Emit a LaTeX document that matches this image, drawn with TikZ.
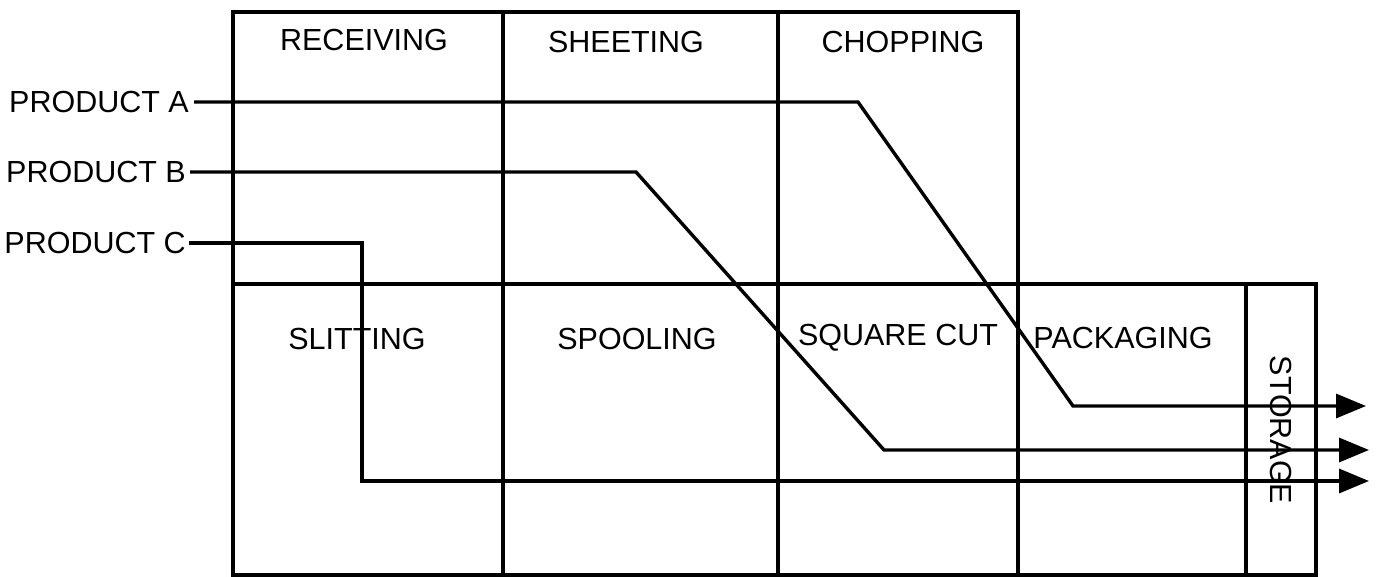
\documentclass[tikz,border=0pt]{standalone}
\usepackage{fontspec}
\setmainfont{Liberation Sans}
\usetikzlibrary{arrows.meta}
\begin{document}
\begin{tikzpicture}[x=1pt,y=-1pt,
  cell/.style={draw,line width=3.4pt},
  lbl/.style={font=\fontsize{30.5}{32}\selectfont,inner sep=0pt},
  flow/.style={line width=3.4pt,line join=miter},
  flowarrow/.style={flow,-{Triangle[length=30pt,width=24pt]}}]
\useasboundingbox (0,0) rectangle (1380,577);
% grid
\draw[cell] (233,12) rectangle (1018,575);
\draw[cell] (1018,284) rectangle (1316,575);
\draw[cell] (233,284) -- (1018,284);
\draw[cell] (503,12) -- (503,575);
\draw[cell] (778,12) -- (778,575);
\draw[cell] (1246,284) -- (1246,575);
% labels
\node[lbl] (rec) at (364,40) {RECEIVING};
\node[lbl] (she) at (626,42) {SHEETING};
\node[lbl] (cho) at (903,42) {CHOPPING};
\node[lbl] (sli) at (357,339) {SLITTING};
\node[lbl] (spo) at (637,339) {SPOOLING};
\node[lbl] (squ) at (898,338) {SQUARE CUT};
\node[lbl] (pac) at (1123,338) {PACKAGING};
\node[lbl,rotate=-90] (sto) at (1281,430) {STORAGE};
\node[lbl,anchor=east] (pa) at (189,102) {PRODUCT A};
\node[lbl,anchor=east] (pb) at (186,172) {PRODUCT B};
\node[lbl,anchor=east] (pc) at (186,243) {PRODUCT C};
% flow coordinates
\coordinate (a1) at (858,102);
\coordinate (a2) at (1073,406);
\coordinate (a3) at (1366,406);
\coordinate (b1) at (636,172);
\coordinate (b2) at (884,450);
\coordinate (b3) at (1369,450);
\coordinate (c1) at (362,243);
\coordinate (c2) at (362,481);
\coordinate (c3) at (1369,481);
\draw[flowarrow] ([xshift=5pt]pa.east) -- (a1) -- (a2) -- (a3);
\draw[flowarrow] ([xshift=4pt]pb.east) -- (b1) -- (b2) -- (b3);
\draw[flowarrow] ([xshift=3pt]pc.east) -- (c1) -- (c2) -- (c3);
\end{tikzpicture}
\end{document}
